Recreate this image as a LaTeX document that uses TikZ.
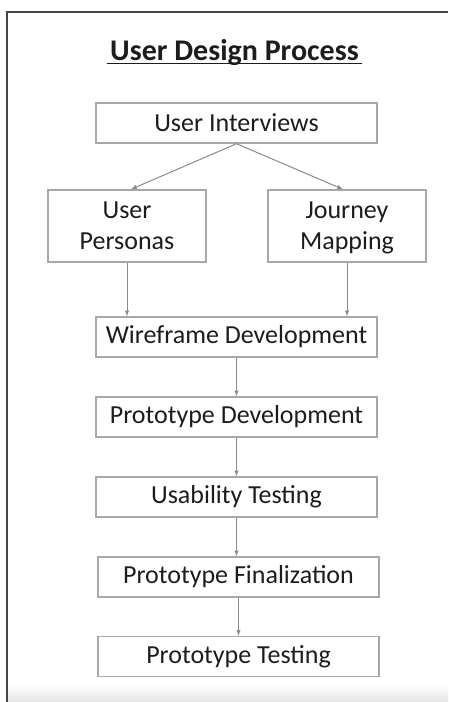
\documentclass[tikz,border=0pt]{standalone}
\usepackage{fontspec}
\setmainfont{Carlito}
\usepackage{tikz}
\usetikzlibrary{arrows,calc,shapes}
\tikzset{>=latex}
\definecolor{boxgray}{HTML}{A8A8A8}
\definecolor{arrowgray}{HTML}{8A8A8A}
\definecolor{framegray}{HTML}{454545}
\definecolor{inkblack}{HTML}{1C1C1C}
\tikzstyle{stage}=[rectangle,draw=boxgray,line width=1.4pt,text=inkblack,minimum height=40pt,minimum width=281pt,inner sep=0pt,font=\fontsize{26}{31}\selectfont]
\tikzstyle{branch}=[stage,minimum height=72pt,minimum width=158pt,align=center,text depth=-3pt]
\tikzstyle{flow}=[->,draw=arrowgray,line width=1pt]

\begin{document}
\begin{tikzpicture}[x=1pt,y=-1pt]
	\useasboundingbox (0,0) rectangle (448,702);
	\shade[top color=white,bottom color=black!10] (8,684) rectangle (448,702);
	\draw[framegray,line width=2pt] (7,702) -- (7,11.5) -- (448,11.5);

	\node[font=\fontsize{30}{36}\selectfont\bfseries,text=inkblack,anchor=base] (title) at (234.5,60) {User Design Process};
	\draw[inkblack,line width=1.8pt] ([yshift=-3.5pt]title.base west) -- ([yshift=-3.5pt]title.base east);

	\node[stage] (interviews) at (236.5,123) {User Interviews};
	\node[branch] (personas) at (127,226) {User\\Personas};
	\node[branch] (journey) at (347,226) {Journey\\Mapping};
	\node[stage] (wireframe) at (236.5,337) {Wireframe Development};
	\node[stage] (protodev) at (236.5,417) {Prototype Development};
	\node[stage] (usability) at (236.5,497) {Usability Testing};
	\node[stage] (finalize) at (238.5,577) {Prototype Finalization};
	\node[stage] (prototest) at (238.5,656.5) {Prototype Testing};

	\draw[flow] (interviews.south) -- ([xshift=4pt]personas.north);
	\draw[flow] (interviews.south) -- ([xshift=-4pt]journey.north);
	\draw[flow] (personas.south) -- (personas.south |- wireframe.north);
	\draw[flow] (journey.south) -- (journey.south |- wireframe.north);
	\draw[flow] (wireframe) -- (protodev);
	\draw[flow] (protodev) -- (usability);
	\draw[flow] (usability.south) -- (usability.south |- finalize.north);
	\draw[flow] (finalize) -- (prototest);
\end{tikzpicture}
\end{document}
